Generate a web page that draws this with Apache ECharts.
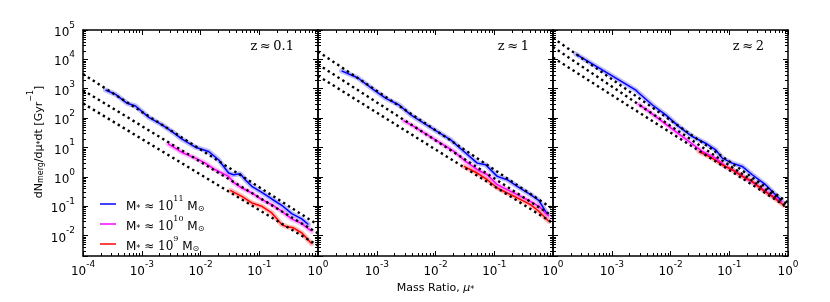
<!DOCTYPE html>
<html><head><meta charset="utf-8">
<script src="https://cdn.jsdelivr.net/npm/echarts@6/dist/echarts.min.js"></script>
<style>html,body{margin:0;padding:0;background:#fff}#c{width:830px;height:302px}</style>
</head><body><div id="c"></div>
<script>
// ---------- tick labels / categories ----------
const xTickValues = [1e-4, 1e-3, 1e-2, 1e-1, 1];
const yTickValues = [1e-2, 1e-1, 1, 1e1, 1e2, 1e3, 1e4, 1e5];
const panelTitles = ['z\u2009\u2248\u20090.1', 'z\u2009\u2248\u20091', 'z\u2009\u2248\u20092'];
const massNames = ['M11', 'M10', 'M9'];
const massExponents = ['11', '10', '9'];
const lineColors = ['#0000ff', '#ff00ff', '#ff0000'];
const bandColors = ['rgba(110,110,255,0.45)', 'rgba(255,110,255,0.45)', 'rgba(255,110,110,0.45)'];

// ---------- data: [mass ratio, dN/dmu dt] ----------
// z ~ 0.1
const p1M11 = [[2.42e-4,900],[3.58e-4,641],[5.65e-4,318],[7.83e-4,258],[1.32e-3,106],[2.22e-3,58.3],[3.28e-3,34.7],[4.85e-3,19.1],[8.17e-3,10.2],[0.01374,7.28],[0.0203,3.79],[0.0301,1.34],[0.0366,1.17],[0.0474,1.27],[0.0577,0.794],[0.0748,0.472],[0.1107,0.295],[0.1637,0.175],[0.2415,0.107],[0.357,0.0557],[0.528,0.0367],[0.686,0.0236]];
const p1M10 = [[2.81e-3,13.2],[4.85e-3,6.73],[8.17e-3,4.32],[0.01208,2.92],[0.01786,1.73],[0.0301,1.03],[0.0366,0.646],[0.0506,0.414],[0.0748,0.281],[0.1107,0.166],[0.1637,0.113],[0.2415,0.067],[0.357,0.0367],[0.528,0.0255],[0.782,0.01403]];
const p1M9 = [[0.0321,0.345],[0.0506,0.216],[0.0748,0.128],[0.1107,0.0989],[0.1637,0.0587],[0.2415,0.0236],[0.294,0.0197],[0.382,0.0182],[0.528,0.0123],[0.782,0.00525]];
// z ~ 1
const p2M11 = [[2.52e-4,4070],[4.72e-4,2360],[9.05e-4,899],[1.43e-3,469],[2.40e-3,279],[3.80e-3,128],[6.40e-3,66.5],[0.01076,34.7],[0.01816,18.1],[0.0305,7.28],[0.0514,2.92],[0.0713,2.56],[0.1125,1.03],[0.1663,0.794],[0.246,0.472],[0.414,0.246],[0.573,0.158],[0.794,0.054]];
const p2M10 = [[2.85e-3,82.0],[4.33e-3,51.3],[7.29e-3,26.7],[0.01227,13.9],[0.02065,7.28],[0.0326,3.33],[0.0514,1.74],[0.0760,1.17],[0.1125,0.537],[0.1663,0.364],[0.246,0.246],[0.414,0.146],[0.573,0.0989],[0.847,0.0453]];
const p2M9 = [[0.0305,2.25],[0.0514,1.34],[0.0760,0.794],[0.1125,0.414],[0.1663,0.281],[0.246,0.190],[0.414,0.113],[0.573,0.067],[0.847,0.0306]];
// z ~ 2
const p3M11 = [[2.46e-4,15000],[3.64e-4,9380],[6.98e-4,4300],[1.34e-3,1960],[2.57e-3,899],[2.85e-3,731],[4.93e-3,279],[8.30e-3,128],[0.01396,51.3],[0.02355,23.5],[0.0396,13.9],[0.0586,8.28],[0.0760,4.32],[0.1125,2.92],[0.1663,2.25],[0.246,1.17],[0.414,0.537],[0.573,0.281],[0.774,0.155]];
const p3M10 = [[2.85e-3,301],[4.33e-3,166],[7.29e-3,75.9],[0.01227,34.7],[0.02065,15.9],[0.0348,7.28],[0.0586,4.32],[0.0867,2.25],[0.128,1.52],[0.190,0.906],[0.319,0.472],[0.504,0.246],[0.794,0.140]];
const p3M9 = [[0.0305,7.28],[0.0514,4.32],[0.0760,2.56],[0.1125,1.74],[0.1663,1.03],[0.246,0.698],[0.363,0.364],[0.537,0.216],[0.847,0.107]];

// fitting-function lines (end points at mu = 1e-4 and mu = 1)
const p1Fits = [[[1e-4,3160],[1,0.0229]], [[1e-4,891],[1,0.01175]], [[1e-4,316],[1,0.00457]]];
const p2Fits = [[[1e-4,18600],[1,0.0794]], [[1e-4,6760],[1,0.0447]], [[1e-4,2750],[1,0.0263]]];
const p3Fits = [[[1e-4,53700],[1,0.132]], [[1e-4,26300],[1,0.112]], [[1e-4,11500],[1,0.0891]]];

const panels = [
  {lines: [p1M11, p1M10, p1M9], fits: p1Fits},
  {lines: [p2M11, p2M10, p2M9], fits: p2Fits},
  {lines: [p3M11, p3M10, p3M9], fits: p3Fits}
];

// ---------- layout ----------
const X_MIN = 1e-4, X_MAX = 1, Y_MIN = 0.002, Y_MAX = 1e5;
const gridLefts = [83, 318, 553];
const GRID_TOP = 30, GRID_W = 235, GRID_H = 226;

const xMinor = [], yMinor = [];
for (let e = -4; e < 0; e++) for (let k = 2; k <= 9; k++) xMinor.push(k * Math.pow(10, e));
for (let e = -3; e < 5; e++) for (let k = 2; k <= 9; k++) { const v = k * Math.pow(10, e); if (v >= Y_MIN) yMinor.push(v); }

const AX = '#000';
const tickRich = {
  b: {fontSize: 12, fontFamily: 'DejaVu Sans', color: '#000', lineHeight: 18, verticalAlign: 'bottom'},
  s: {fontSize: 9, fontFamily: 'DejaVu Sans', color: '#000', lineHeight: 10, verticalAlign: 'top'}
};
function powLabel(v) {
  const l = Math.log10(v), e = Math.round(l);
  if (Math.abs(l - e) > 1e-6) return '';
  return '{b|10}{s|' + e + '}';
}

const grid = [], xAxis = [], yAxis = [], series = [];
gridLefts.forEach((left, i) => {
  grid.push({left: left, top: GRID_TOP, width: GRID_W, height: GRID_H, containLabel: false});
  const common = {
    type: 'log', logBase: 10, gridIndex: i,
    axisLine: {show: true, lineStyle: {color: AX, width: 1.5}},
    axisTick: {show: true, inside: true, length: 5, lineStyle: {color: AX, width: 1}},
    minorTick: {show: false}, splitLine: {show: false}
  };
  xAxis.push(Object.assign({}, common, {
    position: 'bottom', min: X_MIN, max: X_MAX, splitNumber: 4,
    axisLabel: {show: true, margin: 4, showMinLabel: true, showMaxLabel: true, rich: tickRich,
      formatter: v => (i > 0 && Math.abs(Math.log10(v) + 4) < 1e-6) ? '' : powLabel(v)},
    name: i === 1 ? '{a|Mass Ratio, }{i|\u03bc}{sb|*}' : '',
    nameLocation: 'middle', nameGap: 19,
    nameTextStyle: {
      rich: {
        a: {fontSize: 11, fontFamily: 'DejaVu Sans', color: '#000', lineHeight: 18, verticalAlign: 'bottom'},
        i: {fontSize: 11, fontFamily: 'DejaVu Sans', fontStyle: 'italic', color: '#000', lineHeight: 18, verticalAlign: 'bottom'},
        sb: {fontSize: 8, fontFamily: 'DejaVu Sans', color: '#000', lineHeight: 13, verticalAlign: 'bottom'}
      }}
  }));
  xAxis.push(Object.assign({}, common, {
    position: 'top', min: X_MIN, max: X_MAX, splitNumber: 4, axisLabel: {show: false}
  }));
  yAxis.push(Object.assign({}, common, {
    position: 'left', min: Y_MIN, max: Y_MAX, splitNumber: 8,
    axisLabel: {show: i === 0, margin: 8, showMinLabel: true, showMaxLabel: true, rich: tickRich, formatter: powLabel}
  }));
  yAxis.push(Object.assign({}, common, {
    position: 'right', min: Y_MIN, max: Y_MAX, splitNumber: 8, axisLabel: {show: false}
  }));

  const xi = 2 * i, yi = 2 * i;
  const p = panels[i];
  p.lines.forEach((d, k) => {
    series.push({type: 'line', name: 'band' + k, xAxisIndex: xi, yAxisIndex: yi, data: d,
      symbol: 'none', showSymbol: false, silent: true, z: 2,
      lineStyle: {color: bandColors[k], width: 5, join: 'round', cap: 'round'}});
    series.push({type: 'line', name: massNames[k], xAxisIndex: xi, yAxisIndex: yi, data: d,
      symbol: 'none', showSymbol: false, z: 3, color: lineColors[k],
      lineStyle: {color: lineColors[k], width: 1.5}});
  });
  p.fits.forEach((d, k) => {
    series.push({type: 'line', name: 'fit' + k, xAxisIndex: xi, yAxisIndex: yi, data: d,
      symbol: 'none', showSymbol: false, silent: true, z: 4,
      lineStyle: {color: '#000', width: 2.4, type: [2.4, 3.4], cap: 'butt'}});
  });
  // minor ticks on all four sides (positions mapped through the axes)
  series.push({type: 'custom', name: 'minor' + i, xAxisIndex: xi, yAxisIndex: yi, data: [[0.01, 1]], silent: true, z: 5,
    renderItem: function (params, api) {
      const cs = params.coordSys; const ch = [];
      const st = {stroke: '#000', lineWidth: 1};
      xMinor.forEach(v => {
        const px = Math.round(api.coord([v, 1])[0]) + 0.5;
        ch.push({type: 'line', shape: {x1: px, y1: cs.y + cs.height, x2: px, y2: cs.y + cs.height - 3}, style: st});
        ch.push({type: 'line', shape: {x1: px, y1: cs.y, x2: px, y2: cs.y + 3}, style: st});
      });
      yMinor.forEach(v => {
        const py = Math.round(api.coord([0.01, v])[1]) + 0.5;
        ch.push({type: 'line', shape: {x1: cs.x, y1: py, x2: cs.x + 3, y2: py}, style: st});
        ch.push({type: 'line', shape: {x1: cs.x + cs.width, y1: py, x2: cs.x + cs.width - 3, y2: py}, style: st});
      });
      return {type: 'group', children: ch};
    }});
});

const legendRich = {
  g: {width: 5},
  m: {fontSize: 12, fontFamily: 'DejaVu Sans', color: '#000', lineHeight: 18, verticalAlign: 'bottom'},
  t: {fontSize: 12, fontFamily: 'DejaVu Sans', color: '#000', lineHeight: 18, verticalAlign: 'bottom'},
  n: {fontSize: 12, fontFamily: 'DejaVu Serif', color: '#000', lineHeight: 18, verticalAlign: 'bottom'},
  sp: {fontSize: 8, fontFamily: 'DejaVu Serif', color: '#000', lineHeight: 11, verticalAlign: 'top'},
  sb: {fontSize: 8, fontFamily: 'DejaVu Sans', color: '#000', lineHeight: 12, verticalAlign: 'bottom'}
};

const graphic = [];
panelTitles.forEach((t, i) => {
  graphic.push({type: 'text', x: gridLefts[i] + GRID_W - 24, y: 47,
    style: {text: t, fill: '#000', font: '13px "DejaVu Serif"', align: 'right', verticalAlign: 'middle'}});
});
graphic.push({type: 'text', x: 36, y: 142, rotation: Math.PI / 2,
  style: {text: '{a|dN}{sb|merg}{a|/d\u03bc}{sb|*}{a|dt [Gyr}{sp|\u22121}{a|]}', align: 'center', verticalAlign: 'middle',
    rich: {
      a: {fontSize: 11, fontFamily: 'DejaVu Sans', fill: '#000', color: '#000', lineHeight: 18, verticalAlign: 'bottom'},
      sb: {fontSize: 8, fontFamily: 'DejaVu Sans', fill: '#000', color: '#000', lineHeight: 12, verticalAlign: 'bottom'},
      sp: {fontSize: 8, fontFamily: 'DejaVu Sans', fill: '#000', color: '#000', lineHeight: 10, verticalAlign: 'top'}
    }}});

const chart = echarts.init(document.getElementById('c'), null, {renderer: 'canvas'});
chart.setOption({
  animation: false,
  backgroundColor: '#fff',
  grid, xAxis, yAxis, series, graphic,
  legend: {
    data: massNames, orient: 'vertical', left: 95, top: 190, itemGap: 2,
    itemWidth: 16, itemHeight: 1.5, icon: 'rect', selectedMode: false,
    textStyle: {rich: legendRich},
    formatter: name => '{g|}{m|M}{sb|*}{t| \u2248 }{n|10}{sp|' + massExponents[massNames.indexOf(name)] + '}{m| M}{sb|\u2299}'
  }
});
</script></body></html>
